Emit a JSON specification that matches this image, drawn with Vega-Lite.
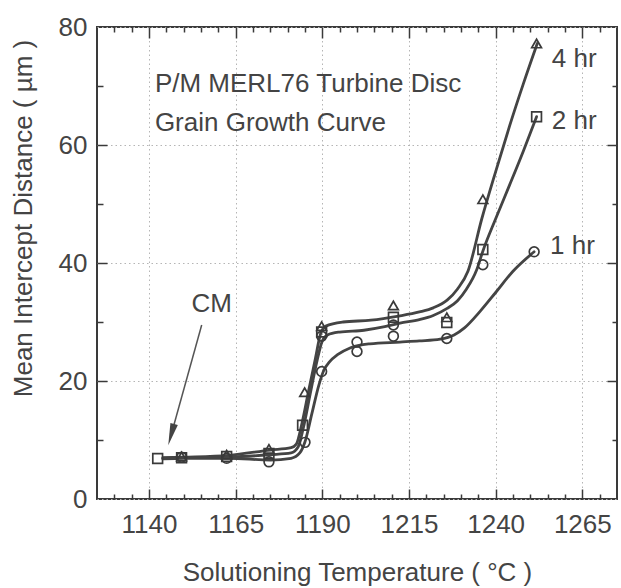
{
  "$schema": "https://vega.github.io/schema/vega-lite/v6.json",
  "width": 520,
  "height": 472,
  "autosize": {"type": "none"},
  "padding": {"left": 97, "top": 27, "right": 4, "bottom": 89},
  "background": "white",
  "config": {
    "view": {"stroke": "#3a3a3a", "strokeWidth": 2},
    "font": "Liberation Sans",
    "axis": {
      "labelFont": "Liberation Sans", "labelFontSize": 26, "labelColor": "#444",
      "titleFont": "Liberation Sans", "titleFontSize": 26, "titleFontWeight": "normal", "titleColor": "#444",
      "domain": false, "tickColor": "#3a3a3a", "tickWidth": 1.5, "grid": false,
      "labelFlush": false, "labelOverlap": false
    }
  },
  "datasets": {
    "curves": [
      {"series": "4 hr", "t": 1144, "v": 7.0}, {"series": "4 hr", "t": 1150, "v": 7.1}, {"series": "4 hr", "t": 1163, "v": 7.4},
      {"series": "4 hr", "t": 1175, "v": 8.3}, {"series": "4 hr", "t": 1181, "v": 8.7}, {"series": "4 hr", "t": 1182.5, "v": 9.3},
      {"series": "4 hr", "t": 1184, "v": 12.5}, {"series": "4 hr", "t": 1186, "v": 18.2}, {"series": "4 hr", "t": 1188, "v": 23.8},
      {"series": "4 hr", "t": 1189.5, "v": 28.0}, {"series": "4 hr", "t": 1191, "v": 29.3}, {"series": "4 hr", "t": 1196, "v": 30.0},
      {"series": "4 hr", "t": 1204, "v": 30.3}, {"series": "4 hr", "t": 1212, "v": 31.0}, {"series": "4 hr", "t": 1218, "v": 31.7},
      {"series": "4 hr", "t": 1222, "v": 32.4}, {"series": "4 hr", "t": 1226, "v": 33.7}, {"series": "4 hr", "t": 1229, "v": 35.6},
      {"series": "4 hr", "t": 1232, "v": 38.6}, {"series": "4 hr", "t": 1236, "v": 47.5}, {"series": "4 hr", "t": 1240, "v": 55.5},
      {"series": "4 hr", "t": 1244, "v": 63.2}, {"series": "4 hr", "t": 1248, "v": 70.4}, {"series": "4 hr", "t": 1252, "v": 77.2},

      {"series": "2 hr", "t": 1144, "v": 6.9}, {"series": "2 hr", "t": 1150, "v": 7.0}, {"series": "2 hr", "t": 1163, "v": 7.1},
      {"series": "2 hr", "t": 1175, "v": 7.5}, {"series": "2 hr", "t": 1181, "v": 7.8}, {"series": "2 hr", "t": 1183, "v": 8.8},
      {"series": "2 hr", "t": 1184.5, "v": 12.0}, {"series": "2 hr", "t": 1186.5, "v": 17.8}, {"series": "2 hr", "t": 1188.5, "v": 23.5},
      {"series": "2 hr", "t": 1190, "v": 26.8}, {"series": "2 hr", "t": 1191.5, "v": 27.8}, {"series": "2 hr", "t": 1195, "v": 28.3},
      {"series": "2 hr", "t": 1202, "v": 28.6}, {"series": "2 hr", "t": 1208, "v": 29.2}, {"series": "2 hr", "t": 1212.4, "v": 29.8},
      {"series": "2 hr", "t": 1218, "v": 30.4}, {"series": "2 hr", "t": 1222, "v": 31.1}, {"series": "2 hr", "t": 1226, "v": 32.3},
      {"series": "2 hr", "t": 1229, "v": 33.6}, {"series": "2 hr", "t": 1231.5, "v": 35.5}, {"series": "2 hr", "t": 1234.5, "v": 38.8},
      {"series": "2 hr", "t": 1236.3, "v": 42.0}, {"series": "2 hr", "t": 1240, "v": 47.5}, {"series": "2 hr", "t": 1244, "v": 53.2},
      {"series": "2 hr", "t": 1248, "v": 59.0}, {"series": "2 hr", "t": 1251.8, "v": 64.8},

      {"series": "1 hr", "t": 1144, "v": 6.8}, {"series": "1 hr", "t": 1150, "v": 6.9}, {"series": "1 hr", "t": 1163, "v": 6.9},
      {"series": "1 hr", "t": 1175, "v": 6.6}, {"series": "1 hr", "t": 1181, "v": 6.9}, {"series": "1 hr", "t": 1183.5, "v": 7.8},
      {"series": "1 hr", "t": 1185, "v": 9.7}, {"series": "1 hr", "t": 1187, "v": 14.5}, {"series": "1 hr", "t": 1189, "v": 19.3},
      {"series": "1 hr", "t": 1190.5, "v": 21.9}, {"series": "1 hr", "t": 1192, "v": 23.2}, {"series": "1 hr", "t": 1194.5, "v": 24.5},
      {"series": "1 hr", "t": 1198, "v": 25.6}, {"series": "1 hr", "t": 1203.7, "v": 26.3}, {"series": "1 hr", "t": 1212.4, "v": 26.6},
      {"series": "1 hr", "t": 1218, "v": 26.8}, {"series": "1 hr", "t": 1224, "v": 27.1}, {"series": "1 hr", "t": 1228, "v": 27.8},
      {"series": "1 hr", "t": 1231, "v": 29.0}, {"series": "1 hr", "t": 1235.5, "v": 31.8}, {"series": "1 hr", "t": 1240, "v": 35.0},
      {"series": "1 hr", "t": 1245, "v": 38.6}, {"series": "1 hr", "t": 1251.1, "v": 41.9}
    ],
    "markers": [
      {"series": "2 hr", "t": 1142.5, "v": 6.85},
      {"series": "2 hr", "t": 1149.4, "v": 7.0}, {"series": "1 hr", "t": 1149.4, "v": 7.1}, {"series": "4 hr", "t": 1149.4, "v": 7.2},
      {"series": "1 hr", "t": 1162.4, "v": 6.9}, {"series": "2 hr", "t": 1162.4, "v": 7.2}, {"series": "4 hr", "t": 1162.4, "v": 7.5},
      {"series": "1 hr", "t": 1174.6, "v": 6.3}, {"series": "2 hr", "t": 1174.6, "v": 7.7}, {"series": "4 hr", "t": 1174.6, "v": 8.5},
      {"series": "1 hr", "t": 1185.0, "v": 9.6}, {"series": "2 hr", "t": 1184.3, "v": 12.5}, {"series": "4 hr", "t": 1184.9, "v": 18.1},
      {"series": "4 hr", "t": 1189.8, "v": 29.3}, {"series": "2 hr", "t": 1189.8, "v": 28.3}, {"series": "1 hr", "t": 1189.8, "v": 27.6}, {"series": "1 hr", "t": 1189.8, "v": 21.6},
      {"series": "1 hr", "t": 1200.0, "v": 26.6}, {"series": "1 hr", "t": 1200.0, "v": 25.0},
      {"series": "4 hr", "t": 1210.5, "v": 32.8}, {"series": "2 hr", "t": 1210.5, "v": 30.8}, {"series": "1 hr", "t": 1210.5, "v": 29.5}, {"series": "1 hr", "t": 1210.5, "v": 27.6},
      {"series": "4 hr", "t": 1225.9, "v": 30.8}, {"series": "2 hr", "t": 1225.9, "v": 29.9}, {"series": "1 hr", "t": 1225.9, "v": 27.2},
      {"series": "4 hr", "t": 1236.3, "v": 50.8}, {"series": "2 hr", "t": 1236.3, "v": 42.3}, {"series": "1 hr", "t": 1236.3, "v": 39.7},
      {"series": "4 hr", "t": 1251.8, "v": 77.2}, {"series": "2 hr", "t": 1251.8, "v": 64.8}, {"series": "1 hr", "t": 1251.1, "v": 41.9}
    ],
    "serieslabels": [
      {"series": "4 hr", "t": 1256.2, "v": 74.6},
      {"series": "2 hr", "t": 1256.2, "v": 64.0},
      {"series": "1 hr", "t": 1255.7, "v": 42.9}
    ],
    "titles": [
      {"label": "P/M MERL76 Turbine Disc", "t": 1141.7, "v": 70.4},
      {"label": "Grain Growth Curve", "t": 1141.7, "v": 63.8}
    ],
    "cm": [{"label": "CM", "t": 1158.1, "v": 33.1}],
    "arrow": [{"t": 1155.2, "v": 29.5, "t2": 1146.4, "v2": 10.9}]
  },
  "resolve": {"axis": {"x": "independent", "y": "independent"}},
  "layer": [
    {
      "data": {"name": "curves"},
      "mark": {"type": "line", "interpolate": "monotone", "color": "#444", "strokeWidth": 2.8, "strokeCap": "round"},
      "encoding": {
        "x": {"field": "t", "type": "quantitative",
          "scale": {"domain": [1125, 1275], "nice": false, "zero": false},
          "axis": {"orient": "bottom", "values": [1140, 1165, 1190, 1215, 1240, 1265], "format": "d",
            "grid": true, "gridDash": [1.5, 3], "gridColor": "#b5b5b5", "gridWidth": 1,
            "ticks": false, "tickSize": 0, "labelPadding": 12,
            "title": "Solutioning Temperature ( °C )", "titleY": 60, "titleBaseline": "top"}},
        "y": {"field": "v", "type": "quantitative",
          "scale": {"domain": [0, 80], "nice": false, "zero": true},
          "axis": {"orient": "left", "values": [0, 20, 40, 60, 80],
            "grid": true, "gridDash": [1.5, 3], "gridColor": "#b5b5b5", "gridWidth": 1,
            "ticks": false, "tickSize": 0, "labelPadding": 10,
            "title": "Mean Intercept Distance ( µm )", "titleX": -66, "titleY": 191, "titleAngle": 270,
            "titleBaseline": "alphabetic", "titleAlign": "center"}},
        "detail": {"field": "series", "type": "nominal"}
      }
    },
    {
      "data": {"name": "markers"},
      "mark": {"type": "point", "filled": false, "strokeWidth": 1.7, "color": "#3a3a3a", "size": 95, "opacity": 1},
      "encoding": {
        "x": {"field": "t", "type": "quantitative",
          "scale": {"domain": [1125, 1275], "nice": false, "zero": false},
          "axis": {"orient": "bottom", "values": [1140, 1165, 1190, 1215, 1240, 1265], "labels": false, "tickSize": -10, "title": null}},
        "y": {"field": "v", "type": "quantitative",
          "scale": {"domain": [0, 80], "nice": false},
          "axis": {"orient": "left", "values": [20, 40, 60], "labels": false, "tickSize": -10, "title": null}},
        "shape": {"field": "series", "type": "nominal",
          "scale": {"domain": ["4 hr", "2 hr", "1 hr"], "range": ["triangle-up", "square", "circle"]}, "legend": null}
      }
    },
    {
      "data": {"name": "serieslabels"},
      "mark": {"type": "text", "align": "left", "baseline": "middle", "fontSize": 26, "font": "Liberation Sans", "color": "#444"},
      "encoding": {
        "x": {"field": "t", "type": "quantitative",
          "scale": {"domain": [1125, 1275], "nice": false, "zero": false},
          "axis": {"orient": "bottom", "values": [1130, 1135, 1145, 1150, 1155, 1160, 1170, 1175, 1180, 1185, 1195, 1200, 1205, 1210, 1220, 1225, 1230, 1235, 1245, 1250, 1255, 1260, 1270], "labels": false, "tickSize": -5, "title": null}},
        "y": {"field": "v", "type": "quantitative",
          "scale": {"domain": [0, 80], "nice": false},
          "axis": {"orient": "left", "values": [10, 30, 50, 70], "labels": false, "tickSize": -6, "title": null}},
        "text": {"field": "series"}
      }
    },
    {
      "data": {"name": "titles"},
      "mark": {"type": "text", "align": "left", "baseline": "middle", "fontSize": 26, "font": "Liberation Sans", "color": "#444"},
      "encoding": {
        "x": {"field": "t", "type": "quantitative",
          "scale": {"domain": [1125, 1275], "nice": false, "zero": false},
          "axis": {"orient": "top", "values": [1140, 1165, 1190, 1215, 1240, 1265], "labels": false, "tickSize": -11, "title": null}},
        "y": {"field": "v", "type": "quantitative",
          "scale": {"domain": [0, 80], "nice": false},
          "axis": {"orient": "right", "values": [20, 40, 60], "labels": false, "tickSize": -10, "title": null}},
        "text": {"field": "label"}
      }
    },
    {
      "data": {"name": "cm"},
      "mark": {"type": "text", "align": "center", "baseline": "middle", "fontSize": 26, "font": "Liberation Sans", "color": "#444"},
      "encoding": {
        "x": {"field": "t", "type": "quantitative",
          "scale": {"domain": [1125, 1275], "nice": false, "zero": false},
          "axis": {"orient": "top", "values": [1130, 1135, 1145, 1150, 1155, 1160, 1170, 1175, 1180, 1185, 1195, 1200, 1205, 1210, 1220, 1225, 1230, 1235, 1245, 1250, 1255, 1260, 1270], "labels": false, "tickSize": -5, "title": null}},
        "y": {"field": "v", "type": "quantitative",
          "scale": {"domain": [0, 80], "nice": false},
          "axis": {"orient": "right", "values": [10, 30, 50, 70], "labels": false, "tickSize": -5, "title": null}},
        "text": {"field": "label"}
      }
    },
    {
      "data": {"name": "arrow"},
      "mark": {"type": "rule", "color": "#555", "strokeWidth": 1.5},
      "encoding": {
        "x": {"field": "t", "type": "quantitative", "scale": {"domain": [1125, 1275], "nice": false, "zero": false}, "axis": null},
        "y": {"field": "v", "type": "quantitative", "scale": {"domain": [0, 80], "nice": false}, "axis": null},
        "x2": {"field": "t2"},
        "y2": {"field": "v2"}
      }
    },
    {
      "data": {"name": "arrow"},
      "mark": {"type": "point", "shape": "M-0.35,-1L0.35,-1L0,1Z", "filled": true, "color": "#444", "size": 484, "angle": 15.5, "opacity": 1},
      "encoding": {
        "x": {"field": "t2", "type": "quantitative", "scale": {"domain": [1125, 1275], "nice": false, "zero": false}, "axis": null},
        "y": {"field": "v2", "type": "quantitative", "scale": {"domain": [0, 80], "nice": false}, "axis": null}
      }
    }
  ]
}
